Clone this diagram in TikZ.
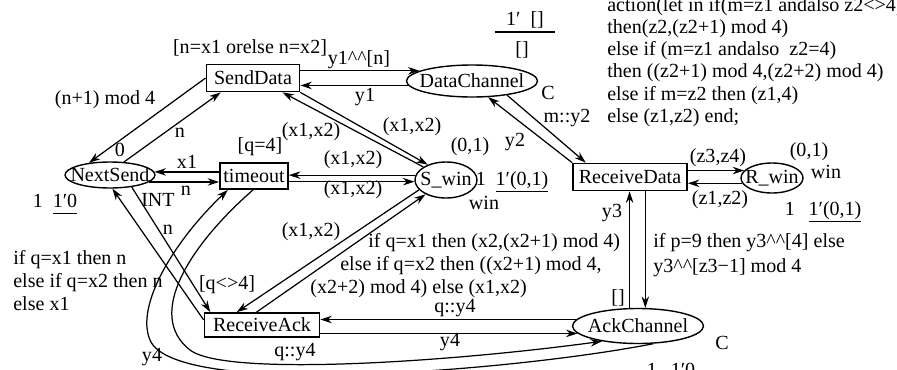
\documentclass[tikz,border=0pt]{standalone}
\usepackage{fontspec}
\setmainfont{Liberation Serif}
\usetikzlibrary{arrows.meta,shapes.geometric}
\newcommand{\initmark}[1]{\underline{#1\vphantom{(}}}

\begin{document}
\begin{tikzpicture}[
  x=0.02cm, y=-0.02cm,
  font=\fontsize{11.4}{12.6}\selectfont,
  trans/.style={draw, line width=1pt, inner sep=0pt, minimum width=#1},
  place/.style={draw, ellipse, line width=0.8pt, inner xsep=-2cm, inner ysep=-1cm},
  flow/.style={-{Stealth[length=2.3mm, width=1.5mm]}, line width=0.7pt},
  inscr/.style={inner sep=0pt},
  block/.style={inscr, anchor=north west, align=left}
]
\useasboundingbox (0,0) rectangle (897,369);

\node[place, minimum width=1.8cm, minimum height=0.52cm] (NextSend) at (110,175) {NextSend};
\node[trans=1.86cm, minimum height=0.54cm] (SendData) at (253,78) {SendData};
\node[trans=1.36cm, minimum height=0.52cm] (timeout) at (254,176) {timeout};
\node[place, minimum width=2.62cm, minimum height=0.64cm] (DataChannel) at (472,81) {DataChannel};
\node[place, minimum width=1.24cm, minimum height=0.72cm] (Swin) at (446,180) {S\_win};
\node[trans=2.28cm, minimum height=0.54cm] (ReceiveData) at (630,177) {ReceiveData};
\node[place, minimum width=1.24cm, minimum height=0.6cm] (Rwin) at (772,178) {R\_win};
\node[trans=2.3cm, minimum height=0.48cm] (ReceiveAck) at (262,325) {ReceiveAck};
\node[place, minimum width=2.62cm, minimum height=0.7cm] (AckChannel) at (638,326) {AckChannel};

\draw[flow] (SendData.west) -- (NextSend.150);
\draw[flow] (NextSend.43) -- (SendData.204);
\draw[flow] (DataChannel.169 -| SendData.east) -- (DataChannel.169);
\draw[flow] (DataChannel.184) -- (DataChannel.184 -| SendData.east);
\draw[flow] (DataChannel.-22) -- (ReceiveData.162);
\draw[flow] (ReceiveData.north west) -- (DataChannel.-45);
\draw[flow] (Swin.150) -- (SendData.-26);
\draw[flow] (SendData.south east) -- (Swin.140);
\draw[flow] (NextSend.4 -| timeout.west) -- (NextSend.4);
\draw[flow] (NextSend.-10) -- (NextSend.-10 -| timeout.west);
\draw[flow] (Swin.171) -- (Swin.171 -| timeout.east);
\draw[flow] (Swin.183 -| timeout.east) -- (Swin.183);
\draw[flow] (ReceiveAck.175) -- (NextSend.-80);
\draw[flow] (NextSend.-29) -- (ReceiveAck.166);
\draw[flow] (Swin.200) -- (ReceiveAck.153);
\draw[flow] (ReceiveAck.113) -- (Swin.215);
\draw[flow] (AckChannel.174) -- (AckChannel.174 -| ReceiveAck.east);
\draw[flow] (AckChannel.187 -| ReceiveAck.east) -- (AckChannel.187);
\draw[flow] (AckChannel.115) -- (AckChannel.115 |- ReceiveData.south);
\draw[flow] (AckChannel.68 |- ReceiveData.south) -- (AckChannel.68);
\draw[flow] (Rwin.165 -| ReceiveData.east) -- (Rwin.165);
\draw[flow] (Rwin.190) -- (Rwin.190 -| ReceiveData.east);
\draw[flow] (AckChannel.311) .. controls (520,370) and (175,400) .. (150,340)
  .. controls (135,305) and (175,240) .. (timeout.208);
\draw[flow] (timeout.266) .. controls (190,245) and (145,315) .. (190,350)
  .. controls (225,377) and (450,362) .. (AckChannel.203);

\node[inscr] (gSend) at (250,48) {[n=x1 orelse n=x2]};
\node[inscr] (iSendNext) at (105,100) {(n+1) mod 4};
\node[inscr] (iZero) at (120,150) {0};
\node[inscr] (iNextSend) at (180,133) {n};
\node[inscr] (iToData) at (359,60) {y1\textasciicircum\textasciicircum[n]};
\node[inscr] (iFromData) at (365,97) {y1};
\node[inscr, inner ysep=0.062cm, minimum width=1.2cm, anchor=south] (mData) at (525,32) {1′\enspace[]};
\draw[line width=0.7pt] (mData.south west) -- (mData.south east);
\node[inscr] (cData) at (522,50) {[]};
\node[inscr] (cDataC) at (548,93) {C};
\node[inscr] (iToRecv) at (567,118) {m::y2};
\node[inscr] (iFromRecv) at (515,142) {y2};
\node[block] (aRecv) at (607,-3) {action(let in if(m=z1 andalso z2<>4)\\
  then(z2,(z2+1) mod 4)\\
  else if (m=z1 andalso\ \ z2=4)\\
  then ((z2+1) mod 4,(z2+2) mod 4)\\
  else if m=z2 then (z1,4)\\
  else (z1,z2) end;};
\node[inscr] (gTimeout) at (260,147) {[q=4]};
\node[inscr] (iSwinSend) at (311,132) {(x1,x2)};
\node[inscr] (iSendSwin) at (412,127) {(x1,x2)};
\node[inscr] (iTimeNext) at (187,162) {x1};
\node[inscr] (iNextTime) at (186,191) {n};
\node[inscr] (cNext) at (158,200) {INT};
\node[inscr, anchor=base] (mNext1) at (38,207) {1};
\node[inscr, anchor=base] (mNext) at (65,207) {\initmark{1′0}};
\node[inscr] (iSwinTime) at (353,160) {(x1,x2)};
\node[inscr] (iTimeSwin) at (353,190) {(x1,x2)};
\node[inscr] (mSwin0) at (470,147) {(0,1)};
\node[inscr, anchor=base] (mSwin1) at (481,185) {1};
\node[inscr, anchor=base] (mSwin) at (522,185) {\initmark{1′(0,1)}};
\node[inscr] (cSwin) at (484,203) {win};
\node[block, font=\fontsize{11.4}{13.1}\selectfont] (iAckNext) at (13,250) {if q=x1 then n\\
  else if q=x2 then n\\
  else x1};
\node[inscr] (iNextAck) at (168,230) {n};
\node[inscr] (gAck) at (227,285) {[q<>4]};
\node[inscr] (iAckSwin) at (311,232) {(x1,x2)};
\node[block, font=\fontsize{11.4}{13.1}\selectfont] (iSwinAck) at (310,233) {\hspace*{1.16cm}if q=x1 then (x2,(x2+1) mod 4)\\
  \hspace*{0.6cm}else if q=x2 then ((x2+1) mod 4,\\
  (x2+2) mod 4) else (x1,x2)};
\node[inscr] (iChanAck) at (455,308) {q::y4};
\node[inscr] (iAckChan) at (450,342) {y4};
\node[inscr] (iTimeChan) at (295,352) {q::y4};
\node[inscr] (iChanTime) at (152,357) {y4};
\node[inscr] (iChanRecv) at (612,213) {y3};
\node[inscr] (mAckInit) at (618,298) {[]};
\node[block, font=\fontsize{11.4}{14.2}\selectfont] (iRecvChan) at (653,233) {if p=9 then y3\textasciicircum\textasciicircum[4] else\\
  y3\textasciicircum\textasciicircum[z3−1] mod 4};
\node[inscr] (iRecvRwin) at (718,158) {(z3,z4)};
\node[inscr] (iRwinRecv) at (720,200) {(z1,z2)};
\node[inscr] (mRwin0) at (809,152) {(0,1)};
\node[inscr] (cRwin) at (826,172) {win};
\node[inscr, anchor=base] (mRwin1) at (790,215) {1};
\node[inscr, anchor=base] (mRwin) at (835,215) {\initmark{1′(0,1)}};
\node[inscr] (cAck) at (722,343) {C};
\node[inscr, anchor=base] (mAck1) at (652,376) {1};
\node[inscr, anchor=base] (mAck) at (683,376) {\initmark{1′0}};
\end{tikzpicture}
\end{document}
